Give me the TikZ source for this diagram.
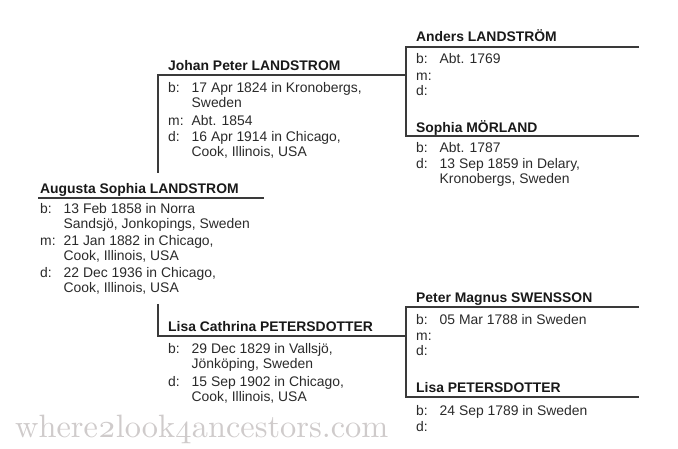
\documentclass[tikz,border=0pt]{standalone}
\usepackage{fontspec}
\usepackage{graphicx}
\setmainfont{Liberation Sans}
\newfontfamily\wmfont{Latin Modern Roman}
\definecolor{linegray}{HTML}{3A3A3A}
\definecolor{txt}{HTML}{2A2A2A}
\definecolor{wm}{HTML}{CFCBCB}
\tikzset{
  conn/.style={draw=linegray, line width=1.4pt},
  pname/.style={anchor=base west, inner sep=0pt, font=\fontsize{13.9}{15}\selectfont\bfseries, text=black!90},
  pinfo/.style={anchor=base west, inner sep=0pt, font=\fontsize{13.9}{15}\selectfont, text=txt},
}
\newenvironment{facts}{\renewcommand{\arraystretch}{1}\begin{tabular}[t]{@{}p{23.5pt}@{}l@{}}}{\end{tabular}}
\begin{document}
\begin{tikzpicture}[x=1pt,y=-1pt]
\useasboundingbox (0,0) rectangle (678,449);
% names
\node[pname] (aug) at (40,194) {Augusta Sophia LANDSTROM};
\node[pname] (joh) at (168,71) {Johan Peter LANDSTROM};
\node[pname] (lic) at (168,332) {Lisa Cathrina PETERSDOTTER};
\node[pname] (and) at (416,42) {Anders LANDSTR\"OM};
\node[pname] (sop) at (416,133) {Sophia M\"ORLAND};
\node[pname] (pet) at (416,303) {Peter Magnus SWENSSON};
\node[pname] (lip) at (416,392) {Lisa PETERSDOTTER};
% facts
\node[pinfo] (augf) at (40,214) {\begin{facts}
b: & 13 Feb 1858 in Norra\\ & Sandsj\"o, Jonkopings, Sweden\\[2pt]
m: & 21 Jan 1882 in Chicago,\\ & Cook, Illinois, USA\\[1.5pt]
d: & 22 Dec 1936 in Chicago,\\ & Cook, Illinois, USA
\end{facts}};
\node[pinfo] (johf) at (168,93) {\begin{facts}
b: & 17 Apr 1824 in Kronobergs,\\ & Sweden\\[3pt]
m: & Abt. 1854\\[1pt]
d: & 16 Apr 1914 in Chicago,\\ & Cook, Illinois, USA
\end{facts}};
\node[pinfo] (licf) at (168,353) {\begin{facts}
b: & 29 Dec 1829 in Vallsj\"o,\\ & J\"onk\"oping, Sweden\\[3pt]
d: & 15 Sep 1902 in Chicago,\\ & Cook, Illinois, USA
\end{facts}};
\node[pinfo] (andf) at (416,64) {\begin{facts}
b: & Abt. 1769\\[1.5pt]
m: & \\[0pt]
d: &
\end{facts}};
\node[pinfo] (sopf) at (416,153) {\begin{facts}
b: & Abt. 1787\\[1pt]
d: & 13 Sep 1859 in Delary,\\ & Kronobergs, Sweden
\end{facts}};
\node[pinfo] (petf) at (416,324) {\begin{facts}
b: & 05 Mar 1788 in Sweden\\[1.5pt]
m: & \\[0pt]
d: &
\end{facts}};
\node[pinfo] (lipf) at (416,415) {\begin{facts}
b: & 24 Sep 1789 in Sweden\\[1pt]
d: &
\end{facts}};
% connector lines
\coordinate (augL) at (38,198);
\coordinate (augR) at (264,198);
\coordinate (jL) at (158,75);
\coordinate (jR) at (406,75);
\coordinate (jB) at (158,173);
\coordinate (lT) at (158,304);
\coordinate (lL) at (158,336);
\coordinate (lR) at (406,336);
\coordinate (aL) at (406,47);
\coordinate (aR) at (639,47);
\coordinate (sL) at (406,136);
\coordinate (sR) at (639,136);
\coordinate (pL) at (406,307);
\coordinate (pR) at (639,307);
\coordinate (qL) at (406,397);
\coordinate (qR) at (639,397);
\draw[conn] (augL) -- (augR);
\draw[conn] (jB) -- (jL) -- (jR);
\draw[conn] (lT) -- (lL) -- (lR);
\draw[conn] (aR) -- (aL) -- (sL) -- (sR);
\draw[conn] (pR) -- (pL) -- (qL) -- (qR);
% watermark
\node[anchor=base west, inner sep=0pt, text=wm] (wmk) at (15,437)
  {\resizebox{373pt}{!}{\wmfont where\oldstylenums{2}look\oldstylenums{4}ancestors.com}};
\end{tikzpicture}
\end{document}
